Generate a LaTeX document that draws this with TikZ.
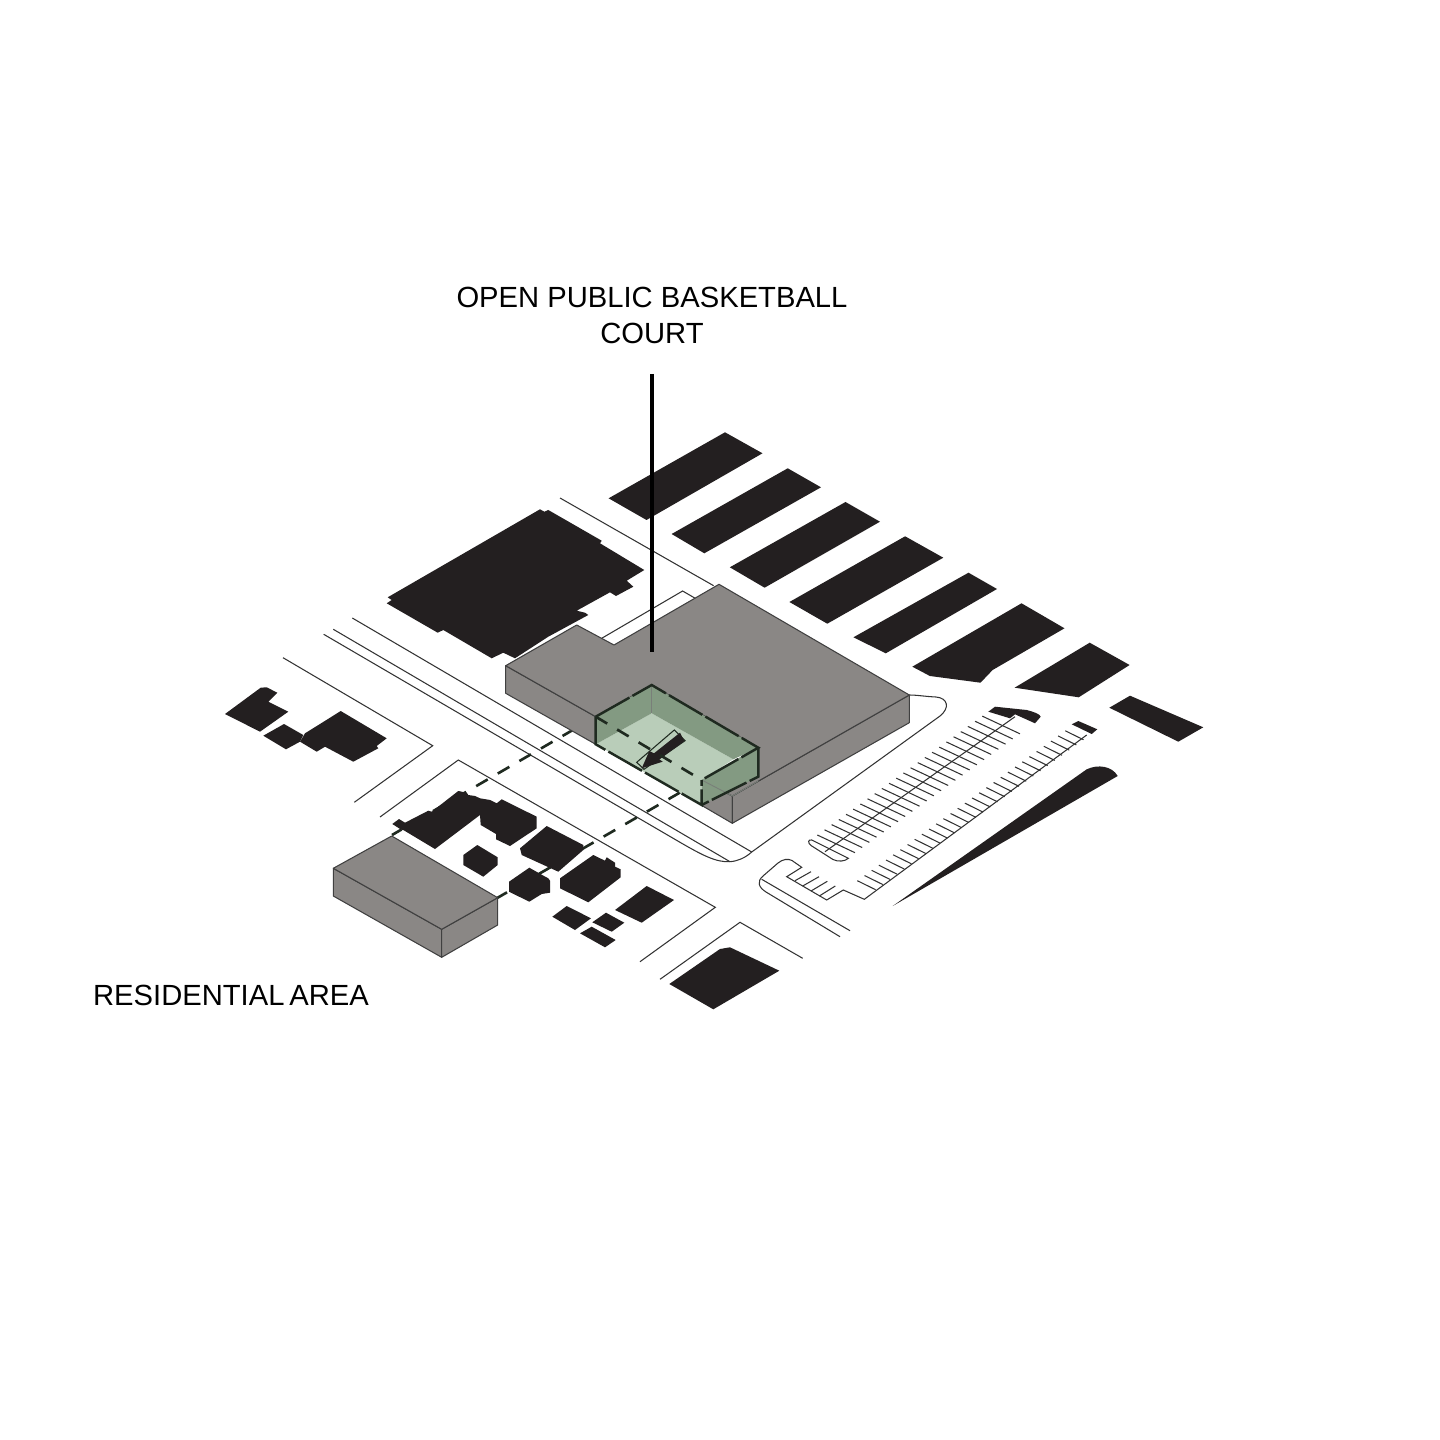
\documentclass[tikz,border=0pt]{standalone}
\usepackage{fontspec}
\setmainfont{Liberation Sans}
\definecolor{blockblack}{HTML}{231F20}
\definecolor{massgray}{HTML}{8A8785}
\definecolor{wallgreen}{HTML}{839A82}
\definecolor{floorgreen}{HTML}{B9CDB9}
\definecolor{edgedark}{HTML}{1F2A20}
\tikzset{
  bldg/.style={fill=blockblack},
  roadline/.style={draw=black!80,line width=0.3pt,line join=miter},
  massface/.style={fill=massgray,draw=black!75,line width=0.3pt,line join=round},
  cutedge/.style={draw=edgedark,line width=0.7pt,dash pattern=on 11pt off 1pt},
  sightline/.style={draw=edgedark,line width=0.75pt,dash pattern=on 3.8pt off 3.3pt},
  caption/.style={font=\fontsize{8.3}{10}\selectfont,inner sep=0pt,align=center}
}
\begin{document}
\begin{tikzpicture}[x=0.01cm,y=-0.01cm]
  \useasboundingbox (0,0) rectangle (1440,1440);

  % Road lines
  \draw[roadline] (352.3,618) -- (751.7,852);
  \draw[roadline] (333.3,629.3) -- (730,861.7);
  \draw[roadline] (323.7,634.3) -- (680,842.3) .. controls (702,855) and (716,862.5) .. (730,861.7)
    .. controls (738,861) and (745,858) .. (751.7,852) -- (940,716) .. controls (950,708) and (948,698) .. (936,697)
    .. controls (925,696.5) and (917,695) .. (909.3,695);
  \draw[roadline] (560,498) -- (713.6,585.7);
  \draw[roadline] (601.7,638.3) -- (682.6,591) -- (694.7,598);
  \draw[roadline] (283,657.7) -- (432.7,745.7) -- (354.3,802.3);
  \draw[roadline] (380,817) -- (458.3,760) -- (715.3,907.3) -- (640,961.7);
  \draw[roadline] (660,979.3) -- (740,922.3) -- (802.7,958.3);

  % Parking lot edge
  \draw[roadline] (761.7,879.3) -- (850,930.7);
  \draw[roadline] (840,936.7) -- (766,892) .. controls (758,887) and (757,881) .. (763,876)
    -- (778,863) .. controls (783,859) and (788,858.5) .. (792,860.5) -- (801.7,867.3) -- (786.7,876.7)
    -- (826.7,900) -- (843.3,890) -- (864.3,899.3) -- (1086.7,735);

  % Parking stalls
  \foreach \i in {0,...,29}
    \draw[roadline] ({857.3+7.17*\i},{880.7-5.17*\i}) -- ++(18.3,9);
  \foreach \i in {0,...,23}
    \draw[roadline] ({817.3+7.17*\i},{835-5.17*\i}) -- ++(37.7,17.7);
  \draw[roadline] (825,851.7) -- (1015,716.7);
  \draw[roadline] (811.7,840) -- (848.3,858.3) .. controls (845,861.5) and (838,862) .. (833,859.5)
    -- (811,845.5) .. controls (807.5,843) and (808,839) .. (811.7,840) -- cycle;
  \draw[roadline] (795,880.7) -- (811,871.7);
  \draw[roadline] (802.7,886) -- (819,876.7);
  \draw[roadline] (811,891) -- (827.3,881.3);
  \draw[roadline] (819.3,896) -- (835.3,886);

  % Black blocks along the top
  \fill[bldg] (608.6,498.3) -- (725,432.3) -- (762.5,453.3) -- (646.5,520) -- cycle;
  \fill[bldg] (671.6,534) -- (787.7,468.3) -- (821,487.3) -- (704.3,553.3) -- cycle;
  \fill[bldg] (729.8,567.3) -- (845.5,502) -- (880,521.7) -- (764.6,587.7) -- cycle;
  \fill[bldg] (789.4,602) -- (905.1,536.3) -- (943.3,557.7) -- (827.3,623.7) -- cycle;
  \fill[bldg] (853.4,637.3) -- (968.5,572.7) -- (997,589) -- (885.8,653.3) -- cycle;
  \fill[bldg] (912.3,666.7) -- (1021.5,603.3) -- (1064.5,628.3) -- (992.6,670) -- (980.5,682.7) -- (929.9,676) -- cycle;
  \fill[bldg] (1014.6,687.7) -- (1089.7,642.7) -- (1129.6,665) -- (1078.7,697.3) -- cycle;
  \fill[bldg] (1109.3,707.7) -- (1130,695.7) -- (1203.3,727.3) -- (1178.3,741.7) -- cycle;

  % Black blocks at the parking ends
  \fill[bldg] (988.3,711.7) -- (995,706.7) -- (1026.7,710) .. controls (1034,712) and (1040,714) .. (1040.7,716.7)
    -- (1035,723.3) -- (1015,714.3) -- (1010,718.3) -- cycle;
  \fill[bldg] (1071.7,724.3) -- (1078.3,721) -- (1097.3,729.3) -- (1091.7,734) -- cycle;
  \fill[bldg] (892.7,906) -- (1086.7,769.3) .. controls (1098,764) and (1112,766) .. (1117.7,776) -- cycle;

  % Black block behind the main mass
  \fill[bldg] (387.7,597.3) -- (540,509.3) -- (544.3,511.7) -- (548.3,510) -- (601.7,540.7) -- (600,543.3)
    -- (644.3,570) -- (626.7,580.7) -- (633.3,586.7) -- (616,596) -- (610,592.3) -- (576.7,610.7)
    -- (585,612.7) -- (588.3,615) -- (548.3,636.7) -- (515,658.3) -- (503.3,652.7) -- (491.7,658.3)
    -- (443.3,630) -- (437.7,632.7) -- (386.7,603.3) -- (391.7,600) -- cycle;

  % Black blocks on the left
  \fill[bldg] (225,714) -- (260.7,687.7) -- (266.7,687.3) -- (277.3,692.7) -- (268.3,701.7) -- (288.3,711.7) -- (260,731.7) -- cycle;
  \fill[bldg] (263.3,735.7) -- (284,724) -- (303.3,735) -- (300,741.7) -- (286,749.3) -- cycle;
  \fill[bldg] (300,741.7) -- (305,733.3) -- (322.7,722.3) -- (340.7,711) -- (386.7,738.3) -- (376.7,746)
    -- (378.3,748.3) -- (353.3,761.7) -- (325,746.7) -- (316.7,751.7) -- cycle;

  % Sight lines to the residential mass
  \draw[sightline] (595.7,716.7) -- (392,835);
  \draw[sightline] (701.7,780) -- (497.7,897.7);

  % Black houses by the residential mass
  \fill[bldg] (392.3,824) -- (399,819) -- (405,822.7) -- (428.3,810.7) -- (431.7,811.7) -- (458.3,791) -- (466.7,792.7)
    -- (468.3,795) -- (475,796) -- (480,798.3) -- (490,800) -- (496.7,803.3) -- (501.7,799.3) -- (536.7,816.7)
    -- (536.7,828.3) -- (510,846) -- (496,839.3) -- (496,834) -- (480.7,825) -- (480,815) -- (435,849) -- (403.3,830) -- (401.7,830) -- cycle;
  \fill[bldg] (520,848.3) -- (546.7,826) -- (583.3,845) -- (583.3,850) -- (558.3,871.7) -- (521.7,855) -- cycle;
  \fill[bldg] (463.3,855) -- (477.3,845) -- (497.7,857.3) -- (497.7,865) -- (483.3,876.7) -- (463.3,865) -- cycle;
  \fill[bldg] (509,881.7) -- (529.3,867.7) -- (544,876) -- (548.3,878.3) -- (550,880.7) -- (550,892.7) -- (541.7,894) -- (529.3,901.7) -- (509,891.7) -- cycle;
  \fill[bldg] (560,878.3) -- (593.3,855) -- (605,860.7) -- (606.7,857.3) -- (615,862.7) -- (615,866.7) -- (620.7,869.3) -- (620.7,877.3) -- (588.3,902.3) -- (560,888.3) -- cycle;
  \fill[bldg] (615,910) -- (646.7,886) -- (674,900) -- (641.7,922.7) -- cycle;
  \fill[bldg] (552.3,916.7) -- (566.7,906) -- (591,918.3) -- (575,930) -- cycle;
  \fill[bldg] (592.3,922.3) -- (606,912.7) -- (624.3,922.7) -- (611.7,931.7) -- cycle;
  \fill[bldg] (580,933.3) -- (591.7,926.7) -- (615.7,940) -- (605,947.3) -- cycle;
  \fill[bldg] (669.3,984) -- (720,949) -- (730,947.3) -- (779.3,970.7) -- (713.3,1009.3) -- cycle;

  % Main mass
  \path[massface] (505.7,665.7) -- (595.7,716.7) -- (595.7,744.3) -- (505.7,693.3) -- cycle;
  \path[massface] (702.7,780) -- (732.3,796) -- (732.3,823.3) -- (702.7,806) -- cycle;
  \path[massface] (732.3,796) -- (909.3,695) -- (909.3,722.7) -- (732.3,823.3) -- cycle;
  \path[massface] (505.7,665.7) -- (576.7,625) -- (614,645) -- (719,584.3) -- (909.3,695) -- (732.3,796)
    -- (701.7,780) -- (758.3,747.7) -- (651.7,685) -- (595.7,716.7) -- cycle;

  % Court cut out of the mass
  \fill[floorgreen] (595.7,744.3) -- (651.7,713.3) -- (733.3,759.3) -- (701.7,780) -- (701.7,805) -- cycle;
  \fill[wallgreen] (595.7,716.7) -- (651.7,685) -- (651.7,713.3) -- (595.7,744.3) -- cycle;
  \fill[wallgreen] (651.7,685) -- (758.3,747.7) -- (733.3,759.3) -- (651.7,713.3) -- cycle;
  \fill[wallgreen] (701.7,780) -- (758.3,746.7) -- (758.3,776.7) -- (701.7,805) -- cycle;
  \draw[draw=edgedark!60,line width=0.25pt] (651.7,685) -- (651.7,713.3);
  \draw[draw=edgedark!60,line width=0.25pt] (701.7,780) -- (732.3,796) -- (758.3,781);
  \draw[cutedge] (595.7,716.7) -- (651.7,685) -- (758.3,747.7) -- (701.7,780);
  \draw[cutedge] (595.7,716.7) -- (595.7,744.3) -- (701.7,805) -- (701.7,780);
  \draw[cutedge] (758.3,747.7) -- (758.3,776.7) -- (701.7,805);

  % Arrow on the court
  \draw[draw=edgedark,line width=0.3pt,fill=floorgreen] (636.7,762.3) -- (674.3,730) -- (685,740.7) -- (644,769.3) -- cycle;
  \fill[bldg] (641.7,768.3) -- (649.3,751) -- (654,753.3) -- (680,732.7) -- (684.3,741) -- (659.3,759.3) -- (662.7,761.7) -- cycle;
  \draw[sightline] (595.7,716.7) -- (701.7,780);

  % Residential mass
  \path[massface] (333.3,868.3) -- (441.7,929.3) -- (441.7,957.3) -- (333.3,896) -- cycle;
  \path[massface] (441.7,929.3) -- (497.7,897.7) -- (497.7,925) -- (441.7,957.3) -- cycle;
  \path[massface] (333.3,868.3) -- (391.7,836) -- (497.7,897.7) -- (441.7,929.3) -- cycle;

  % Labels
  \node[caption] (courtlabel) at (652,315.5) {OPEN PUBLIC BASKETBALL\\COURT};
  \node[caption] (arealabel) at (231,995) {RESIDENTIAL\,AREA};

  % Pin under the court label
  \coordinate (pintop) at (652,374);
  \coordinate (pinend) at (652,652);
  \draw[line width=1.25pt,black] (pintop) -- (pinend);
\end{tikzpicture}
\end{document}
